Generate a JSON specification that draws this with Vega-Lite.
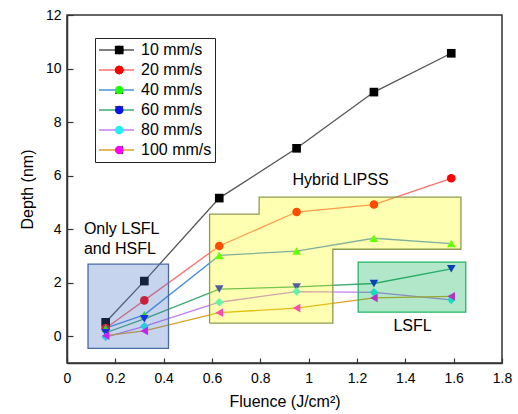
{
  "$schema": "https://vega.github.io/schema/vega-lite/v6.json",
  "width": 435,
  "height": 348,
  "autosize": {"type": "none"},
  "padding": {"left": 67, "top": 15, "right": 16, "bottom": 51},
  "background": "white",
  "config": {
    "font": "Liberation Sans",
    "view": {"stroke": "#333", "strokeWidth": 1.5},
    "axis": {
      "grid": false,
      "domainColor": "#333",
      "domainWidth": 1.5,
      "tickColor": "#333",
      "tickWidth": 1.2,
      "labelFontSize": 14,
      "labelColor": "#000",
      "titleFontSize": 16,
      "titleFontWeight": "normal",
      "titleColor": "#000",
      "labelFlush": false,
      "labelOverlap": false
    }
  },
  "datasets": {
    "series": [
      {"speed": "10 mm/s", "fluence": 0.16, "depth": 0.52},
      {"speed": "10 mm/s", "fluence": 0.32, "depth": 2.06},
      {"speed": "10 mm/s", "fluence": 0.63, "depth": 5.16},
      {"speed": "10 mm/s", "fluence": 0.95, "depth": 7.02},
      {"speed": "10 mm/s", "fluence": 1.27, "depth": 9.12},
      {"speed": "10 mm/s", "fluence": 1.59, "depth": 10.57},
      {"speed": "20 mm/s", "fluence": 0.16, "depth": 0.3},
      {"speed": "20 mm/s", "fluence": 0.32, "depth": 1.34},
      {"speed": "20 mm/s", "fluence": 0.63, "depth": 3.37},
      {"speed": "20 mm/s", "fluence": 0.95, "depth": 4.64},
      {"speed": "20 mm/s", "fluence": 1.27, "depth": 4.92},
      {"speed": "20 mm/s", "fluence": 1.59, "depth": 5.9},
      {"speed": "40 mm/s", "fluence": 0.16, "depth": 0.3},
      {"speed": "40 mm/s", "fluence": 0.32, "depth": 0.8},
      {"speed": "40 mm/s", "fluence": 0.63, "depth": 3.02},
      {"speed": "40 mm/s", "fluence": 0.95, "depth": 3.18},
      {"speed": "40 mm/s", "fluence": 1.27, "depth": 3.66},
      {"speed": "40 mm/s", "fluence": 1.59, "depth": 3.46},
      {"speed": "60 mm/s", "fluence": 0.16, "depth": 0.13},
      {"speed": "60 mm/s", "fluence": 0.32, "depth": 0.65},
      {"speed": "60 mm/s", "fluence": 0.63, "depth": 1.76},
      {"speed": "60 mm/s", "fluence": 0.95, "depth": 1.84},
      {"speed": "60 mm/s", "fluence": 1.27, "depth": 1.97},
      {"speed": "60 mm/s", "fluence": 1.59, "depth": 2.52},
      {"speed": "80 mm/s", "fluence": 0.16, "depth": -0.03},
      {"speed": "80 mm/s", "fluence": 0.32, "depth": 0.37},
      {"speed": "80 mm/s", "fluence": 0.63, "depth": 1.27},
      {"speed": "80 mm/s", "fluence": 0.95, "depth": 1.67},
      {"speed": "80 mm/s", "fluence": 1.27, "depth": 1.64},
      {"speed": "80 mm/s", "fluence": 1.59, "depth": 1.36},
      {"speed": "100 mm/s", "fluence": 0.16, "depth": 0.02},
      {"speed": "100 mm/s", "fluence": 0.32, "depth": 0.2},
      {"speed": "100 mm/s", "fluence": 0.63, "depth": 0.88},
      {"speed": "100 mm/s", "fluence": 0.95, "depth": 1.05},
      {"speed": "100 mm/s", "fluence": 1.27, "depth": 1.43},
      {"speed": "100 mm/s", "fluence": 1.59, "depth": 1.49}
    ],
    "boxes": [
      {"region": "blue", "x1": 0.087, "x2": 0.42, "y1": -0.45, "y2": 2.69},
      {"region": "green", "x1": 1.205, "x2": 1.65, "y1": 0.9, "y2": 2.77}
    ],
    "hybrid": [
      {"i": 0, "x": 0.59, "y": 0.49},
      {"i": 1, "x": 0.59, "y": 4.56},
      {"i": 2, "x": 0.795, "y": 4.56},
      {"i": 3, "x": 0.795, "y": 5.2},
      {"i": 4, "x": 1.63, "y": 5.2},
      {"i": 5, "x": 1.63, "y": 3.25},
      {"i": 6, "x": 1.1, "y": 3.25},
      {"i": 7, "x": 1.1, "y": 0.49},
      {"i": 8, "x": 0.59, "y": 0.49}
    ],
    "notes": [
      {"text": "Hybrid LIPSS", "x": 1.132, "y": 5.83},
      {"text": "LSFL", "x": 1.43, "y": 0.37}
    ],
    "notesLeft": [
      {"text": "Only LSFL\nand HSFL", "x": 0.07, "y": 3.99}
    ]
  },
  "layer": [
    {
      "data": {"name": "series"},
      "mark": {"type": "line", "strokeWidth": 1.3},
      "encoding": {
        "x": {
          "field": "fluence", "type": "quantitative",
          "scale": {"domain": [0, 1.8], "nice": false, "zero": false},
          "axis": {
            "title": "Fluence (J/cm²)",
            "values": [0, 0.1, 0.2, 0.3, 0.4, 0.5, 0.6, 0.7, 0.8, 0.9, 1, 1.1, 1.2, 1.3, 1.4, 1.5, 1.6, 1.7, 1.8],
            "format": "~g",
            "labelExpr": "round(datum.value*10)%2==0 ? datum.label : ''",
            "tickSize": {"condition": {"test": "round(datum.value*10)%2==0", "value": -5}, "value": -3},
            "labelPadding": 13,
            "titlePadding": 8
          }
        },
        "y": {
          "field": "depth", "type": "quantitative",
          "scale": {"domain": [-1, 12], "nice": false, "zero": false},
          "axis": {
            "title": "Depth (nm)",
            "values": [0, 1, 2, 3, 4, 5, 6, 7, 8, 9, 10, 11, 12],
            "labelExpr": "datum.value%2==0 ? datum.label : ''",
            "tickSize": {"condition": {"test": "datum.value%2==0", "value": -6}, "value": -4},
            "labelPadding": 12,
            "titlePadding": 10
          }
        },
        "stroke": {
          "field": "speed", "type": "nominal",
          "scale": {
            "domain": ["10 mm/s", "20 mm/s", "40 mm/s", "60 mm/s", "80 mm/s", "100 mm/s"],
            "range": ["#555555", "#ff6f6f", "#4a8fe0", "#3aab70", "#c07ef0", "#d9a520"]
          },
          "legend": {
            "title": null,
            "orient": "none",
            "legendX": 28,
            "legendY": 23,
            "padding": 3,
            "strokeColor": "#222",
            "clipHeight": 18,
            "rowPadding": 2,
            "symbolType": "stroke",
            "symbolSize": 1225,
            "symbolStrokeWidth": 1.5,
            "labelFontSize": 16,
            "labelColor": "#000",
            "labelOffset": 6
          }
        },
        "order": {"field": "fluence", "type": "quantitative"}
      }
    },
    {
      "data": {"name": "series"},
      "mark": {"type": "point", "filled": true, "opacity": 1, "size": 75, "strokeWidth": 0},
      "encoding": {
        "x": {"field": "fluence", "type": "quantitative"},
        "y": {"field": "depth", "type": "quantitative"},
        "fill": {
          "field": "speed", "type": "nominal",
          "sort": ["10 mm/s", "20 mm/s", "40 mm/s", "60 mm/s", "80 mm/s", "100 mm/s"],
          "scale": {
            "range": ["#000000", "#ff0000", "#22ff00", "#0a14e6", "#22f0f0", "#ff00ff"]
          },
          "legend": {
            "title": null,
            "orient": "none",
            "legendX": 28,
            "legendY": 23,
            "padding": 3,
            "clipHeight": 18,
            "rowPadding": 2,
            "symbolSize": 75,
            "symbolOffset": 13.2,
            "symbolStrokeWidth": 0,
            "symbolOpacity": 1,
            "labelFontSize": 16,
            "labelOpacity": 0
          }
        },
        "shape": {
          "field": "speed", "type": "nominal",
          "sort": ["10 mm/s", "20 mm/s", "40 mm/s", "60 mm/s", "80 mm/s", "100 mm/s"],
          "scale": {
            "range": ["square", "circle", "triangle-up", "triangle-down", "diamond", "triangle-left"]
          },
          "legend": {
            "title": null,
            "orient": "none",
            "legendX": 28,
            "legendY": 23,
            "padding": 3,
            "clipHeight": 18,
            "rowPadding": 2,
            "symbolSize": 75,
            "symbolOffset": 13.2,
            "symbolStrokeWidth": 0,
            "symbolOpacity": 1,
            "labelFontSize": 16,
            "labelOpacity": 0
          }
        }
      }
    },
    {
      "data": {"name": "boxes"},
      "transform": [{"filter": "datum.region == 'blue'"}],
      "mark": {"type": "rect", "fill": "#4472c4", "fillOpacity": 0.3, "stroke": "#4a6aa6", "strokeWidth": 1.3},
      "encoding": {
        "x": {"field": "x1", "type": "quantitative"},
        "x2": {"field": "x2"},
        "y": {"field": "y1", "type": "quantitative"},
        "y2": {"field": "y2"}
      }
    },
    {
      "data": {"name": "boxes"},
      "transform": [{"filter": "datum.region == 'green'"}],
      "mark": {"type": "rect", "fill": "#00b050", "fillOpacity": 0.3, "stroke": "#22b565", "strokeWidth": 1.3},
      "encoding": {
        "x": {"field": "x1", "type": "quantitative"},
        "x2": {"field": "x2"},
        "y": {"field": "y1", "type": "quantitative"},
        "y2": {"field": "y2"}
      }
    },
    {
      "data": {"name": "hybrid"},
      "mark": {"type": "line", "fill": "#ffff00", "fillOpacity": 0.3, "stroke": "#8c9c50", "strokeWidth": 1.3},
      "encoding": {
        "x": {"field": "x", "type": "quantitative"},
        "y": {"field": "y", "type": "quantitative"},
        "order": {"field": "i", "type": "quantitative"}
      }
    },
    {
      "data": {"name": "notes"},
      "mark": {"type": "text", "fontSize": 16, "color": "#000", "baseline": "middle", "align": "center"},
      "encoding": {
        "x": {"field": "x", "type": "quantitative"},
        "y": {"field": "y", "type": "quantitative"},
        "text": {"field": "text"}
      }
    },
    {
      "data": {"name": "notesLeft"},
      "mark": {"type": "text", "fontSize": 16, "color": "#000", "baseline": "middle", "align": "left", "lineBreak": "\n", "lineHeight": 20},
      "encoding": {
        "x": {"field": "x", "type": "quantitative"},
        "y": {"field": "y", "type": "quantitative"},
        "text": {"field": "text"}
      }
    }
  ]
}
